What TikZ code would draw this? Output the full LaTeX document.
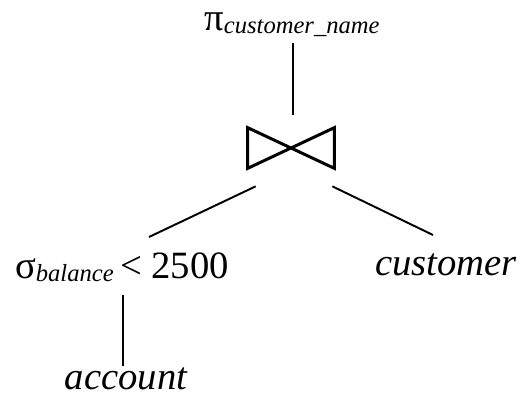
\documentclass[tikz,border=0pt]{standalone}
\usepackage{fontspec}
\setmainfont{Liberation Serif}
\newcommand{\subtxt}[1]{\raisebox{-2pt}{\fontsize{14}{16}\selectfont\itshape #1}}
\begin{document}
\begin{tikzpicture}[x=0.02cm, y=-0.02cm,
		rel/.style={inner sep=0pt, anchor=base, font=\fontsize{22}{26}\selectfont},
		edge/.style={line width=1.1pt},
		joinbox/.style={minimum width=1.72cm, minimum height=0.8cm, inner sep=0pt}]
		\useasboundingbox (0,0) rectangle (523,396);

		% Define the operators and relations
		\node[rel] (proj) at (292,30) {π\subtxt{customer\_name}};
		\node[joinbox] (join) at (291,148) {};
		\node[rel] (sel) at (122,278) {σ\subtxt{balance}\,< 2500};
		\node[rel] (cust) at (446,275) {\itshape customer};
		\node[rel] (acct) at (126,389) {\itshape account};

		% Draw the join symbol
		\draw[line width=1.7pt, line join=miter] (join.north west) -- (join.south west) -- (join.north east) -- (join.south east) -- cycle;

		% Define the edges
		\draw[edge] ([shift={(1,13)}]proj.base) -- ([shift={(2,-13)}]join.north);
		\draw[edge] ([shift={(8,18)}]join.south west) -- ([shift={(27,-41)}]sel.base);
		\draw[edge] ([shift={(-2,18)}]join.south east) -- ([shift={(-13,-40)}]cust.base);
		\draw[edge] ([shift={(1,17)}]sel.base) -- ([shift={(-3,-23)}]acct.base);
	\end{tikzpicture}
\end{document}
